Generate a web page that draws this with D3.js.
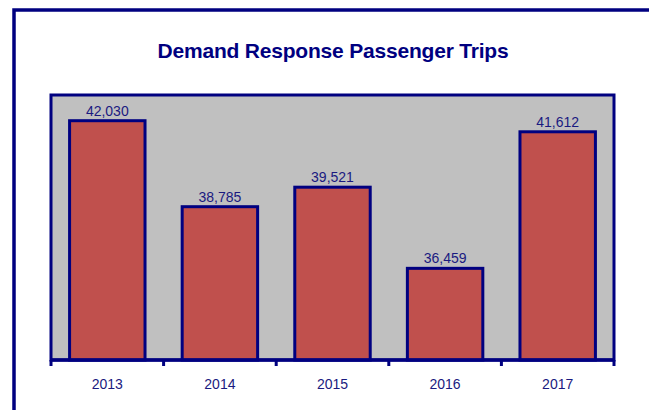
<!DOCTYPE html>
<html>
<head>
<meta charset="utf-8">
<script src="https://cdn.jsdelivr.net/npm/d3@7"></script>
<style>
  body { margin: 0; background: #fff; }
  svg { display: block; font-family: Arial, "Liberation Sans", sans-serif; }
</style>
</head>
<body>
<div id="plot"></div>
<script>
const years = ["2013", "2014", "2015", "2016", "2017"];
const trips = [42030, 38785, 39521, 36459, 41612];
const yDomain = [33000, 43000];
const title = "Demand Response Passenger Trips";

const width = 649, height = 410;
const navy = "#000080";
const margin = { top: 95, right: 35, bottom: 50, left: 51 };

const svg = d3.select("#plot")
    .append("svg")
    .attr("width", width)
    .attr("height", height);

// outer frame (only top and left edges show)
svg.append("path")
    .attr("d", `M14,${height} L14,10 L${width},10`)
    .attr("fill", "none")
    .attr("stroke", navy)
    .attr("stroke-width", 3.5);

svg.append("text")
    .attr("x", 333)
    .attr("y", 58)
    .attr("text-anchor", "middle")
    .attr("font-size", 21)
    .attr("font-weight", "bold")
    .attr("letter-spacing", -0.2)
    .attr("fill", navy)
    .text(title);

const plotW = width - margin.left - margin.right;
const plotH = height - margin.top - margin.bottom;

const g = svg.append("g")
    .attr("transform", `translate(${margin.left},${margin.top})`);

const x = d3.scaleBand()
    .domain(years)
    .range([0, plotW])
    .paddingInner(0.33)
    .paddingOuter(0.165);

const xTicks = d3.scaleBand()
    .domain(years)
    .range([0, plotW]);

const y = d3.scaleLinear()
    .domain(yDomain)
    .range([plotH, 0]);

g.append("rect")
    .attr("width", plotW)
    .attr("height", plotH)
    .attr("fill", "#C0C0C0")
    .attr("stroke", navy)
    .attr("stroke-width", 3);

g.selectAll(".bar")
    .data(trips)
    .join("rect")
    .attr("class", "bar")
    .attr("x", (d, i) => x(years[i]))
    .attr("y", d => y(d))
    .attr("width", x.bandwidth())
    .attr("height", d => plotH - y(d))
    .attr("fill", "#C0504D")
    .attr("stroke", navy)
    .attr("stroke-width", 3);

g.selectAll(".val")
    .data(trips)
    .join("text")
    .attr("class", "val")
    .attr("x", (d, i) => x(years[i]) + x.bandwidth() / 2)
    .attr("y", d => y(d) - 5)
    .attr("text-anchor", "middle")
    .attr("font-size", 14)
    .attr("fill", "#1a1a80")
    .text(d => d3.format(",")(d));

// x axis with ticks at category boundaries
const axis = g.append("g")
    .attr("transform", `translate(0,${plotH})`);

axis.append("line")
    .attr("x1", 0).attr("x2", plotW)
    .attr("stroke", navy)
    .attr("stroke-width", 3.5);

const bounds = years.map(d => xTicks(d)).concat([plotW]);
axis.selectAll(".tick")
    .data(bounds)
    .join("line")
    .attr("class", "tick")
    .attr("x1", d => d).attr("x2", d => d)
    .attr("y1", 0).attr("y2", 6)
    .attr("stroke", navy)
    .attr("stroke-width", 3);

axis.selectAll(".lbl")
    .data(years)
    .join("text")
    .attr("class", "lbl")
    .attr("x", d => xTicks(d) + xTicks.bandwidth() / 2)
    .attr("y", 29)
    .attr("text-anchor", "middle")
    .attr("font-size", 14)
    .attr("fill", "#1a1a80")
    .text(d => d);
</script>
</body>
</html>
